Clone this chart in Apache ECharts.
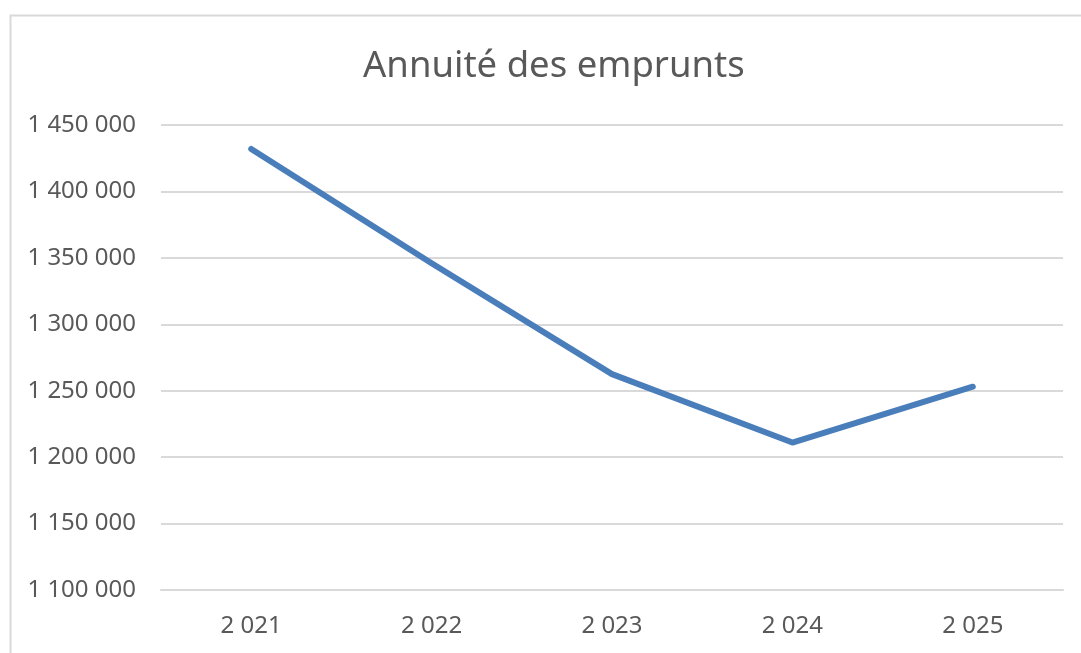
<!DOCTYPE html>
<html>
<head>
<meta charset="utf-8">
<script src="https://cdn.jsdelivr.net/npm/echarts@6/dist/echarts.min.js"></script>
<style>
html,body{margin:0;padding:0;background:#fff;}
#c{width:1081px;height:653px;}
</style>
</head>
<body>
<div id="c"></div>
<script>
const title = 'Annuité des emprunts';
const categories = ['2 021', '2 022', '2 023', '2 024', '2 025'];
const annuites = [1432000, 1346000, 1262500, 1211000, 1253000];
const yMin = 1100000, yMax = 1450000, yStep = 50000;

function fmt(v){
  return String(v).replace(/\B(?=(\d{3})+(?!\d))/g, ' ');
}

const chart = echarts.init(document.getElementById('c'), null, {renderer:'canvas'});
chart.setOption({
  animation:false,
  backgroundColor:'#fff',
  graphic:[{
    type:'rect', left:8, top:13, silent:true,
    shape:{x:0,y:0,width:1090,height:660},
    style:{fill:'none', stroke:'#d9d9d9', lineWidth:2}
  }],
  title:{
    text:title, left:358, top:43,
    textStyle:{fontFamily:'Noto Sans', fontSize:36.5, fontWeight:'normal', color:'#595959'}
  },
  grid:{left:161, right:18, top:125, bottom:63, containLabel:false},
  xAxis:{
    type:'category', data:categories, boundaryGap:true,
    axisLine:{show:true, lineStyle:{color:'#d9d9d9', width:2}},
    axisTick:{show:false},
    axisLabel:{margin:24, fontFamily:'Noto Sans', fontSize:24, color:'#595959'}
  },
  yAxis:{
    type:'value', min:yMin, max:yMax, interval:yStep,
    axisLine:{show:false}, axisTick:{show:false},
    splitLine:{lineStyle:{color:'#d9d9d9', width:2}},
    axisLabel:{margin:25, fontFamily:'Noto Sans', fontSize:24, color:'#595959', formatter:fmt}
  },
  series:[{
    type:'line', data:annuites, showSymbol:false, symbol:'none',
    lineStyle:{color:'#4a7ebb', width:6, cap:'round', join:'round'}
  }]
});
</script>
</body>
</html>
